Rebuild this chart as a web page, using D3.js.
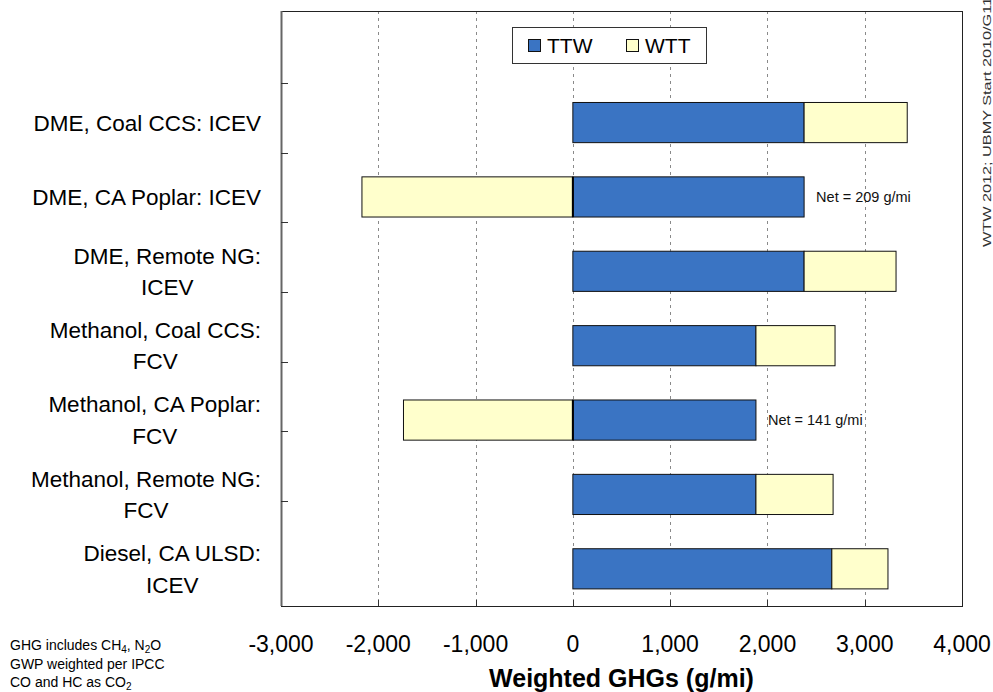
<!DOCTYPE html>
<html>
<head>
<meta charset="utf-8">
<script src="https://cdn.jsdelivr.net/npm/d3@7"></script>
<style>
  html, body { margin: 0; padding: 0; background: #fff; }
  svg { display: block; font-family: "Liberation Sans", Arial, sans-serif; }
</style>
</head>
<body>
<svg id="chart" width="993" height="692"></svg>
<script>
// ---- data ----
const categories = [
  "DME, Coal CCS: ICEV",
  "DME, CA Poplar: ICEV",
  "DME, Remote NG:\nICEV",
  "Methanol, Coal CCS:\nFCV",
  "Methanol, CA Poplar:\nFCV",
  "Methanol, Remote NG:\nFCV",
  "Diesel, CA ULSD:\nICEV"
];
const ttwValues = [2377, 2377, 2377, 1882, 1882, 1882, 2662];
const wttValues = [1060, -2168, 945, 813, -1741, 793, 577];
const netLabels = [null, "Net = 209 g/mi", null, null, "Net = 141 g/mi", null, null];
const seriesNames = ["TTW", "WTT"];
const xTickValues = [-3000, -2000, -1000, 0, 1000, 2000, 3000, 4000];
const xAxisTitle = "Weighted GHGs (g/mi)";
const sideNote = "WTW 2012; UBMY Start 2010/G11";

// ---- layout ----
const svg = d3.select("#chart");
const plot = { left: 281, right: 962, top: 11, bottom: 606 };
const colors = { TTW: "#3a74c3", WTT: "#ffffcc" };

const x = d3.scaleLinear().domain([-3000, 4000]).range([plot.left, plot.right]);
// first band is an empty slot at top (as in the original)
const y = d3.scaleBand()
  .domain(d3.range(categories.length + 1))
  .range([plot.top, plot.bottom])
  .paddingInner(0.46).paddingOuter(0.23);
const tickY = d3.scaleLinear().domain([1, 7]).range([83, 501]);

// plot background
svg.append("rect")
  .attr("x", plot.left).attr("y", plot.top)
  .attr("width", plot.right - plot.left).attr("height", plot.bottom - plot.top)
  .attr("fill", "#fff");

// gridlines
svg.append("g").selectAll("line")
  .data(xTickValues.filter(v => v > -3000 && v < 4000))
  .join("line")
  .attr("x1", d => Math.round(x(d)) + 0.5).attr("x2", d => Math.round(x(d)) + 0.5)
  .attr("y1", plot.top).attr("y2", plot.bottom)
  .attr("stroke", "#8a8a8a").attr("stroke-width", 1)
  .attr("stroke-dasharray", "3,4");

// bars
const rows = categories.map((c, i) => ({
  i, c, ttw: ttwValues[i], wtt: wttValues[i], net: netLabels[i]
}));
const barG = svg.append("g");
rows.forEach(r => {
  const yb = y(r.i + 1), h = y.bandwidth();
  barG.append("rect")
    .attr("x", x(0)).attr("y", yb)
    .attr("width", x(r.ttw) - x(0)).attr("height", h)
    .attr("fill", colors.TTW).attr("stroke", "#111").attr("stroke-width", 1);
  const x0 = r.wtt >= 0 ? x(r.ttw) : x(r.wtt);
  const x1 = r.wtt >= 0 ? x(r.ttw + r.wtt) : x(0);
  barG.append("rect")
    .attr("x", x0).attr("y", yb)
    .attr("width", x1 - x0).attr("height", h)
    .attr("fill", colors.WTT).attr("stroke", "#111").attr("stroke-width", 1);
  if (r.wtt < 0) {
    barG.append("line")
      .attr("x1", x(0)).attr("x2", x(0))
      .attr("y1", yb).attr("y2", yb + h)
      .attr("stroke", "#000").attr("stroke-width", 2);
  }
  if (r.net) {
    barG.append("text")
      .attr("x", x(r.ttw) + 12).attr("y", yb + h / 2 + 5)
      .attr("font-size", 14.5).attr("fill", "#111")
      .text(r.net);
  }
});

// plot frame
svg.append("rect")
  .attr("x", plot.left + 0.5).attr("y", plot.top + 0.5)
  .attr("width", plot.right - plot.left).attr("height", plot.bottom - plot.top)
  .attr("fill", "none").attr("stroke", "#222").attr("stroke-width", 1);
svg.append("line")
  .attr("x1", plot.left + 0.5).attr("x2", plot.left + 0.5)
  .attr("y1", plot.top).attr("y2", plot.bottom)
  .attr("stroke", "#666").attr("stroke-width", 2);

// y tick marks (inward)
svg.append("g").selectAll("line")
  .data(d3.range(1, 8))
  .join("line")
  .attr("x1", plot.left).attr("x2", plot.left + 7)
  .attr("y1", d => Math.round(tickY(d)) + 0.5).attr("y2", d => Math.round(tickY(d)) + 0.5)
  .attr("stroke", "#333").attr("stroke-width", 1);

// x tick marks (inward at bottom)
svg.append("g").selectAll("line")
  .data(xTickValues.filter(v => v > -3000 && v < 4000))
  .join("line")
  .attr("x1", d => Math.round(x(d)) + 0.5).attr("x2", d => Math.round(x(d)) + 0.5)
  .attr("y1", plot.bottom - 6).attr("y2", plot.bottom)
  .attr("stroke", "#333").attr("stroke-width", 1);

// x tick labels (ASCII hyphen for negatives)
const fmt = d3.format(",");
svg.append("g").selectAll("text")
  .data(xTickValues)
  .join("text")
  .attr("x", d => x(d)).attr("y", 651.5)
  .attr("text-anchor", "middle")
  .attr("font-size", 23).attr("fill", "#000")
  .text(d => fmt(d).replace("\u2212", "-"));

// x axis title
svg.append("text")
  .attr("x", (plot.left + plot.right) / 2).attr("y", 687)
  .attr("text-anchor", "middle")
  .attr("font-size", 25).attr("font-weight", "bold").attr("fill", "#000")
  .text(xAxisTitle);

// category labels (block right-aligned, lines centred)
const labelRight = 261;
const lineGap = 31.5;
rows.forEach(r => {
  const lines = r.c.split("\n");
  const cy = y(r.i + 1) + y.bandwidth() / 2;
  const g = svg.append("g");
  const texts = lines.map((ln, k) => g.append("text")
    .attr("font-size", 22.5).attr("fill", "#000")
    .attr("text-anchor", "middle")
    .attr("y", cy + (k - (lines.length - 1) / 2) * lineGap + 8)
    .text(ln));
  const maxW = d3.max(texts, t => t.node().getComputedTextLength());
  texts.forEach(t => t.attr("x", labelRight - maxW / 2));
});

// legend
const leg = svg.append("g");
leg.append("rect")
  .attr("x", 512.5).attr("y", 27.5).attr("width", 194).attr("height", 36)
  .attr("fill", "#fff").attr("stroke", "#333").attr("stroke-width", 1);
const legX = [528, 626];
seriesNames.forEach((s, k) => {
  leg.append("rect")
    .attr("x", legX[k] + 0.5).attr("y", 39.5).attr("width", 12).attr("height", 12)
    .attr("fill", colors[s]).attr("stroke", "#111").attr("stroke-width", 1);
  leg.append("text")
    .attr("x", legX[k] + 19).attr("y", 52.5)
    .attr("font-size", 21).attr("fill", "#000")
    .text(s);
});

// bottom-left note with subscripts
const note = svg.append("g").attr("font-size", 14).attr("fill", "#000");
const n1 = note.append("text").attr("x", 10).attr("y", 650);
n1.append("tspan").text("GHG includes CH");
n1.append("tspan").attr("font-size", 10).attr("dy", 3).text("4");
n1.append("tspan").attr("dy", -3).text(", N");
n1.append("tspan").attr("font-size", 10).attr("dy", 3).text("2");
n1.append("tspan").attr("dy", -3).text("O");
note.append("text").attr("x", 10).attr("y", 668.5).text("GWP weighted per IPCC");
const n3 = note.append("text").attr("x", 10).attr("y", 687);
n3.append("tspan").text("CO and HC as CO");
n3.append("tspan").attr("font-size", 10).attr("dy", 3).text("2");

// rotated side note
svg.append("text")
  .attr("transform", "translate(991,247) rotate(-90)")
  .attr("font-size", 11).attr("fill", "#333")
  .attr("textLength", 250).attr("lengthAdjust", "spacingAndGlyphs")
  .text(sideNote);
</script>
</body>
</html>
